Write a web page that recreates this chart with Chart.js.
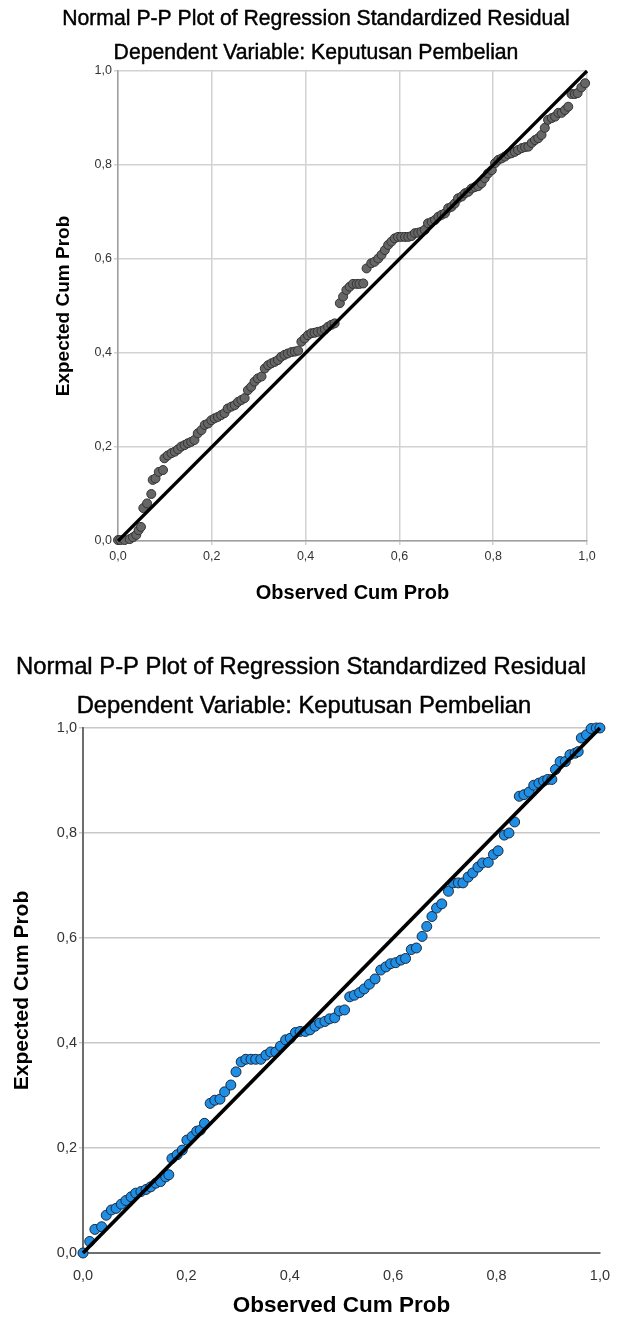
<!DOCTYPE html>
<html><head><meta charset="utf-8">
<script src="https://cdn.jsdelivr.net/npm/chart.js@4.4.1/dist/chart.umd.min.js"></script>
<style>
html,body{margin:0;padding:0;background:#fff;}
#w1{position:absolute;left:0;top:0;width:620px;height:640px;}
#w2{position:absolute;left:0;top:640px;width:620px;height:685px;}
canvas{display:block;}
</style></head><body>
<div id="w1"><canvas id="c1" width="620" height="640"></canvas></div>
<div id="w2"><canvas id="c2" width="620" height="685"></canvas></div>
<script>
const titleText = 'Normal P-P Plot of Regression Standardized Residual';
const subtitleText = 'Dependent Variable: Keputusan Pembelian';
const xTitle = 'Observed Cum Prob';
const yTitle = 'Expected Cum Prob';
const tickValues = [0, 0.2, 0.4, 0.6, 0.8, 1.0];
const tickLabels = ['0,0', '0,2', '0,4', '0,6', '0,8', '1,0'];
const refLine = [0, 1];

// Chart 1 (grey points)
const obs1 = [0,0.005,0.014,0.025,0.032,0.039,0.044,0.049,0.054,0.062,0.071,0.074,0.080,0.087,0.096,0.099,0.106,0.114,0.121,0.128,0.135,0.142,0.149,0.156,0.163,0.170,0.178,0.185,0.192,0.199,0.206,0.213,0.220,0.227,0.234,0.242,0.249,0.256,0.263,0.270,0.277,0.284,0.291,0.298,0.306,0.313,0.320,0.327,0.334,0.341,0.348,0.355,0.362,0.370,0.377,0.384,0.391,0.398,0.405,0.412,0.419,0.426,0.434,0.441,0.448,0.455,0.462,
  0.473,0.480,0.487,0.494,0.501,0.509,0.515,0.523,0.530,0.540,0.547,0.555,0.562,0.569,0.576,0.583,0.590,0.597,0.604,0.612,0.619,0.626,0.633,0.640,0.647,0.654,0.661,0.669,0.676,0.683,0.690,0.697,0.704,0.711,0.718,0.725,0.733,0.740,0.747,0.754,0.761,0.768,0.775,0.782,0.789,0.797,0.804,0.811,0.818,0.825,0.832,0.839,0.846,0.853,0.861,0.868,0.875,0.882,0.889,0.896,0.903,0.910,0.917,0.925,0.932,0.939,0.946,0.953,0.960,0.967,0.974,0.980,0.988,0.996];
const exp1 = [0.002,0.002,0.002,0.004,0.008,0.013,0.023,0.030,0.070,0.080,0.100,0.130,0.133,0.147,0.151,0.176,0.182,0.187,0.190,0.195,0.201,0.204,0.208,0.211,0.215,0.229,0.236,0.247,0.250,0.257,0.261,0.264,0.268,0.272,0.282,0.286,0.289,0.296,0.300,0.304,0.321,0.328,0.339,0.346,0.350,0.367,0.374,0.378,0.381,0.385,0.392,0.396,0.399,0.402,0.403,0.405,0.424,0.431,0.438,0.442,0.443,0.445,0.447,0.450,0.456,0.460,0.463,
  0.506,0.520,0.534,0.541,0.547,0.547,0.547,0.548,0.580,0.591,0.594,0.601,0.609,0.619,0.630,0.637,0.644,0.647,0.647,0.647,0.647,0.649,0.655,0.656,0.658,0.662,0.676,0.679,0.683,0.690,0.694,0.697,0.708,0.711,0.718,0.729,0.733,0.740,0.743,0.750,0.753,0.755,0.761,0.772,0.782,0.789,0.804,0.811,0.814,0.818,0.823,0.825,0.828,0.832,0.836,0.838,0.839,0.847,0.853,0.857,0.864,0.879,0.896,0.900,0.903,0.911,0.911,0.917,0.924,0.951,0.951,0.953,0.965,0.974];

// Chart 2 (blue points)
const obs2 = [0,0.013,0.023,0.036,0.045,0.055,0.064,0.074,0.083,0.093,0.102,0.112,0.122,0.131,0.141,0.150,0.160,0.166,0.172,0.182,0.192,0.201,0.211,0.220,0.227,0.235,0.246,0.255,0.265,0.274,0.286,0.296,0.306,0.315,0.325,0.334,0.344,0.354,0.363,0.373,0.382,0.392,0.401,0.411,0.420,0.430,0.439,0.449,0.458,0.468,0.477,0.487,0.496,0.506,
  0.516,0.525,0.535,0.544,0.554,0.565,0.576,0.586,0.595,0.605,0.615,0.624,0.635,0.645,0.656,0.665,0.675,0.684,0.694,0.707,0.716,0.726,0.735,0.745,0.754,0.764,0.773,0.784,0.794,0.803,0.815,0.824,0.835,0.844,0.853,0.863,0.872,0.882,0.891,0.899,0.907,0.914,0.923,0.933,0.942,0.952,0.958,0.964,0.974,0.983,0.993,1.0];
const exp2 = [0,0.022,0.045,0.050,0.072,0.082,0.085,0.093,0.100,0.107,0.114,0.117,0.121,0.126,0.133,0.136,0.145,0.149,0.180,0.187,0.196,0.215,0.222,0.232,0.234,0.247,0.285,0.291,0.293,0.307,0.320,0.345,0.364,0.369,0.369,0.369,0.369,0.377,0.383,0.383,0.394,0.406,0.409,0.420,0.422,0.422,0.425,0.432,0.438,0.441,0.446,0.448,0.461,0.463,
  0.488,0.491,0.496,0.503,0.512,0.522,0.539,0.545,0.551,0.553,0.558,0.561,0.578,0.581,0.603,0.622,0.641,0.657,0.665,0.689,0.705,0.705,0.705,0.716,0.724,0.735,0.743,0.744,0.759,0.766,0.796,0.800,0.821,0.870,0.873,0.878,0.891,0.895,0.899,0.902,0.902,0.921,0.936,0.936,0.949,0.952,0.955,0.981,0.987,0.999,1.0,1.0];

const FONT = "'Liberation Sans', Arial, sans-serif";

function tickLabel(v) {
  const i = tickValues.findIndex(t => Math.abs(t - v) < 1e-9);
  return i >= 0 ? tickLabels[i] : '';
}
function setTicks(axis) { axis.ticks = tickValues.map(v => ({ value: v })); }

function heavyText(ctx, txt, x, y) {
  ctx.fillText(txt, x, y);
  ctx.strokeText(txt, x, y);
}

function textPlugin(s) {
  return {
    id: 'texts',
    afterDraw(chart) {
      const ctx = chart.ctx, a = chart.chartArea;
      ctx.save();
      ctx.fillStyle = '#000';
      ctx.strokeStyle = '#000';
      ctx.lineWidth = 0.45;
      ctx.lineJoin = 'round';
      ctx.textAlign = 'center';
      ctx.textBaseline = 'middle';
      ctx.font = s.titleFont;
      heavyText(ctx, titleText, s.titleX, s.titleY);
      ctx.font = s.subFont;
      heavyText(ctx, subtitleText, s.subX, s.subY);
      ctx.font = s.xFont;
      ctx.fillText(xTitle, (a.left + a.right) / 2, s.xTitleY);
      ctx.font = s.yFont;
      ctx.translate(s.yTitleX, (a.top + a.bottom) / 2);
      ctx.rotate(-Math.PI / 2);
      ctx.fillText(yTitle, 0, 0);
      ctx.restore();
    }
  };
}

function makeChart(id, o) {
  return new Chart(document.getElementById(id), {
    type: 'scatter',
    data: {
      datasets: [
        {
          label: 'ref',
          data: refLine.map(v => ({ x: v, y: v })),
          showLine: true,
          borderColor: '#000',
          borderWidth: o.lineW,
          pointRadius: 0,
          order: 0,
          clip: false
        },
        {
          label: 'points',
          data: o.obs.map((x, i) => ({ x: x, y: o.exp[i] })),
          backgroundColor: o.fill,
          borderColor: o.stroke,
          borderWidth: 1,
          pointRadius: o.r,
          order: 1,
          clip: false
        }
      ]
    },
    options: {
      responsive: false,
      animation: false,
      devicePixelRatio: 1,
      layout: { padding: o.pad },
      plugins: { legend: { display: false }, tooltip: { enabled: false }, title: { display: false } },
      scales: {
        x: {
          type: 'linear', min: 0, max: 1,
          afterBuildTicks: setTicks,
          afterFit: ax => { ax.height = o.xH; },
          ticks: { callback: tickLabel, color: '#333', font: { family: FONT, size: o.tickSize }, padding: o.xPad, maxRotation: 0, autoSkip: false },
          grid: { display: o.xGrid, color: o.gridColor, lineWidth: 1.5, tickLength: 4, drawTicks: true },
          border: { display: true, color: o.axisColor, width: o.axisW }
        },
        y: {
          type: 'linear', min: 0, max: 1,
          afterBuildTicks: setTicks,
          afterFit: ax => { ax.width = o.yW; },
          ticks: { callback: tickLabel, color: '#333', font: { family: FONT, size: o.tickSize }, padding: 2, autoSkip: false },
          grid: { display: true, color: o.gridColor, lineWidth: 1.5, tickLength: 4, drawTicks: true },
          border: { display: true, color: o.axisColor, width: o.axisW }
        }
      }
    },
    plugins: [textPlugin(o.text)]
  });
}

makeChart('c1', {
  obs: obs1, exp: exp1, fill: '#666666', stroke: '#333333', r: 4.5, lineW: 3.2,
  pad: { top: 71, right: 33, bottom: 0, left: 0 }, xH: 99, yW: 118,
  tickSize: 12.5, xPad: 4, xGrid: true, gridColor: '#d2d2d2', axisColor: '#a0a0a0', axisW: 1.5,
  text: {
    titleFont: '21.2px ' + FONT, titleX: 316, titleY: 19,
    subFont: '21.2px ' + FONT, subX: 316, subY: 53,
    xFont: 'bold 20px ' + FONT, xTitleY: 593,
    yFont: 'bold 19px ' + FONT, yTitleX: 64
  }
});

makeChart('c2', {
  obs: obs2, exp: exp2, fill: '#1e8fe4', stroke: '#1a2a40', r: 5, lineW: 3.8,
  pad: { top: 88, right: 13, bottom: 0, left: 0 }, xH: 72, yW: 83,
  tickSize: 14.5, xPad: 10, xGrid: false, gridColor: '#c8c8c8', axisColor: '#6e6e6e', axisW: 2,
  text: {
    titleFont: '23.8px ' + FONT, titleX: 301, titleY: 27,
    subFont: '23.8px ' + FONT, subX: 304, subY: 66,
    xFont: 'bold 22.5px ' + FONT, xTitleY: 666,
    yFont: 'bold 21px ' + FONT, yTitleX: 22
  }
});
</script>
</body></html>
